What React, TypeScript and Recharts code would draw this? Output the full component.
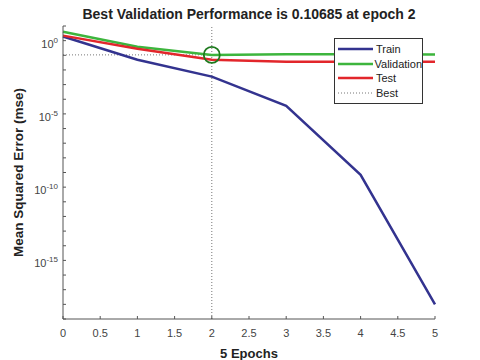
import React from 'react';
import { LineChart, Line, XAxis, YAxis, ReferenceLine, ReferenceDot, Legend } from 'recharts';

// MSE per epoch (log scale)
const epochs = [0, 1, 2, 3, 4, 5];
const trainMse = [1.9, 0.05, 0.0035, 3.6e-5, 7e-10, 1e-18];
const validationMse = [4.0, 0.39, 0.10685, 0.12, 0.12, 0.115];
const testMse = [2.2, 0.28, 0.05, 0.037, 0.037, 0.036];

const bestEpoch = 2;
const bestPerf = 0.10685;

const xTicks = [0, 0.5, 1, 1.5, 2, 2.5, 3, 3.5, 4, 4.5, 5];
const yExponents = [-19, -18, -17, -16, -15, -14, -13, -12, -11, -10, -9, -8, -7, -6, -5, -4, -3, -2, -1, 0, 1];
const yLabelExponents = [0, -5, -10, -15];

const series = [
  { key: 'train', name: 'Train', color: '#33338f' },
  { key: 'validation', name: 'Validation', color: '#3db53d' },
  { key: 'test', name: 'Test', color: '#e2262b' },
];

const data = epochs.map((e, i) => ({
  epoch: e,
  train: trainMse[i],
  validation: validationMse[i],
  test: testMse[i],
}));

const FONT = '"Liberation Sans", Arial, sans-serif';
const AXIS = '#555';

const XTick = ({ x, y, payload }: any) => (
  <text x={x} y={y + 18} textAnchor="middle" fontSize={11} fill="#444" fontFamily={FONT}>
    {payload.value}
  </text>
);

const YTick = ({ x, y, payload }: any) => {
  const exp = Math.round(Math.log10(payload.value));
  if (!yLabelExponents.includes(exp)) return null;
  return (
    <text x={x} y={y + 7} textAnchor="end" fontSize={11} fill="#444" fontFamily={FONT}>
      10
      <tspan fontSize={8} dy={-5}>{exp}</tspan>
    </text>
  );
};

const LegendBox = () => (
  <div
    style={{
      border: '1px solid #333',
      background: '#fff',
      width: 87,
      padding: '3px 0',
      fontFamily: FONT,
      fontSize: 11,
      color: '#222',
      textAlign: 'left',
    }}
  >
    {series.map(s => (
      <div key={s.key} style={{ display: 'flex', alignItems: 'center', height: 14.5 }}>
        <svg width={38} height={6} style={{ marginLeft: 3 }}>
          <line x1={0} y1={3} x2={35} y2={3} stroke={s.color} strokeWidth={2.5} />
        </svg>
        <span>{s.name}</span>
      </div>
    ))}
    <div style={{ display: 'flex', alignItems: 'center', height: 14.5 }}>
      <svg width={38} height={6} style={{ marginLeft: 3 }}>
        <line x1={0} y1={3} x2={35} y2={3} stroke="#777" strokeWidth={1} strokeDasharray="1 2" />
      </svg>
      <span>Best</span>
    </div>
  </div>
);

const App = () => (
  <div style={{ position: 'absolute', left: 0, top: 0, width: 480, height: 360, background: '#fff' }}>
    <style>{`body { margin: 0; }`}</style>
    <div
      style={{
        position: 'absolute',
        left: 63,
        width: 372,
        top: 6,
        textAlign: 'center',
        fontFamily: FONT,
        fontWeight: 'bold',
        fontSize: 14,
        color: '#222',
      }}
    >
      Best Validation Performance is {bestPerf} at epoch {bestEpoch}
    </div>
    <LineChart width={480} height={360} data={data} margin={{ top: 26, right: 45, left: 0, bottom: 0 }}>
      <XAxis
        dataKey="epoch"
        type="number"
        domain={[0, 5]}
        ticks={xTicks}
        interval={0}
        height={41}
        stroke={AXIS}
        tickSize={-3}
        tickMargin={3}
        tick={<XTick />}
        label={{
          value: `${epochs[epochs.length - 1]} Epochs`,
          position: 'insideBottom',
          offset: 2,
          fontFamily: FONT,
          fontWeight: 'bold',
          fontSize: 13,
          fill: '#222',
        }}
      />
      <YAxis
        scale="log"
        domain={[1e-19, 10]}
        allowDataOverflow
        ticks={yExponents.map(e => Math.pow(10, e))}
        interval={0}
        width={63}
        stroke={AXIS}
        tickSize={-3}
        tickMargin={8}
        tick={<YTick />}
        label={{
          value: 'Mean Squared Error  (mse)',
          angle: -90,
          position: 'insideLeft',
          offset: 18,
          style: { textAnchor: 'middle' },
          fontFamily: FONT,
          fontWeight: 'bold',
          fontSize: 13.5,
          fill: '#222',
        }}
      />
      <ReferenceLine x={bestEpoch} stroke="#777" strokeDasharray="1 2" />
      <ReferenceLine
        segment={[{ x: 0, y: bestPerf }, { x: bestEpoch, y: bestPerf }]}
        stroke="#777"
        strokeDasharray="1 2"
      />
      {series.map(s => (
        <Line
          key={s.key}
          dataKey={s.key}
          name={s.name}
          stroke={s.color}
          strokeWidth={2.5}
          dot={false}
          type="linear"
          isAnimationActive={false}
        />
      ))}
      <ReferenceDot x={bestEpoch} y={bestPerf} r={8} fill="none" stroke="#1e7a1e" strokeWidth={1.8} />
      <Legend
        layout="vertical"
        align="center"
        verticalAlign="middle"
        content={<LegendBox />}
        wrapperStyle={{ left: 334, top: 38, width: 89 }}
      />
    </LineChart>
  </div>
);

export default App;
